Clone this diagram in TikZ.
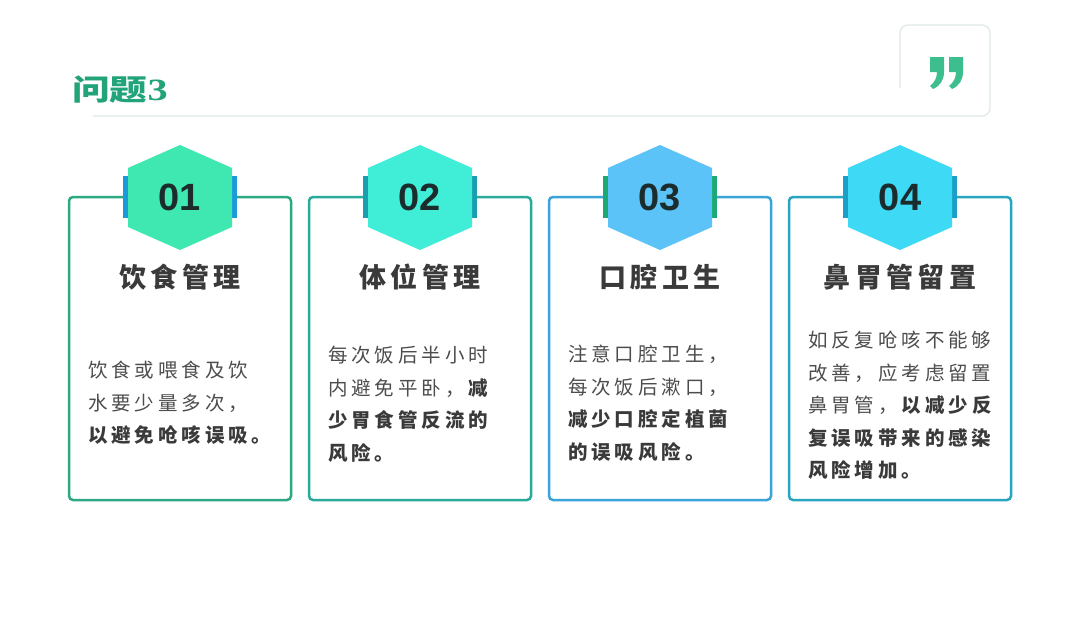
\documentclass[tikz,border=0pt]{standalone}
\usepackage{fontspec}
\usepackage{graphicx}
\usepackage{tikz}
\usetikzlibrary{positioning}
\newfontfamily\cjkbody[LetterSpace=20]{Noto Sans CJK SC}
\newfontfamily\cjkhead[LetterSpace=16]{Noto Sans CJK SC}
\newfontfamily\cjktitle{Noto Sans CJK SC}
\newfontfamily\numfont{Liberation Sans}
\newfontfamily\serifnum{Liberation Serif}
\definecolor{titlegreen}{HTML}{22A37A}
\definecolor{quotegreen}{HTML}{3DBE8E}
\definecolor{framegrey}{HTML}{E0E8E5}
\definecolor{bordA}{HTML}{2CA883}
\definecolor{bordB}{HTML}{2AAA9A}
\definecolor{bordC}{HTML}{3AA3D8}
\definecolor{bordD}{HTML}{2AA5BF}
\definecolor{hexA}{HTML}{3EE8B0}
\definecolor{hexB}{HTML}{40EED8}
\definecolor{hexC}{HTML}{5BC3F7}
\definecolor{hexD}{HTML}{3ED9F5}
\definecolor{tabA}{HTML}{1A9AD8}
\definecolor{tabB}{HTML}{1A9FB0}
\definecolor{tabC}{HTML}{1BA873}
\definecolor{tabD}{HTML}{1AA0C8}
\definecolor{numdark}{HTML}{1C2B2B}
\definecolor{headgrey}{HTML}{3A3A3A}
\definecolor{bodygrey}{HTML}{4D4D4D}
\tikzset{
    card/.style={draw=#1,line width=2.5pt,rounded corners=4pt,fill=white,
        minimum width=222pt,minimum height=303pt,outer sep=0pt},
    tab/.style={fill=#1,minimum width=114pt,minimum height=42pt,inner sep=0pt},
    num/.style={font=\numfont\bfseries\fontsize{38}{40}\selectfont,text=numdark},
    head/.style={font=\cjkhead\bfseries\fontsize{27}{30}\selectfont,text=headgrey},
    body/.style={font=\cjkbody\fontsize{19.5}{32.5}\selectfont,text=bodygrey,
        align=left,anchor=north west,inner sep=0pt},
}
\newcommand{\hexbadge}[2]{%
    \fill[#2] (#1) ++(0,-52) -- ++(52,23) -- ++(0,59) -- ++(-52,23)
        -- ++(-52,-23) -- ++(0,-59) -- cycle;}

\begin{document}
\begin{tikzpicture}[x=1pt,y=-1pt]
    \useasboundingbox[fill=white] (0,0) rectangle (1080,619);

    % heading and quote frame
    \node[anchor=west,inner sep=0pt,text=titlegreen] (title) at (72,90)
        {\scalebox{1.3}[1]{\cjktitle\bfseries\fontsize{29}{30}\selectfont 问题{\serifnum\fontsize{31}{30}\selectfont 3}}};
    \draw[framegrey,line width=1.3pt,rounded corners=8pt]
        (900,88) -- (900,25) -- (990,25) -- (990,116) -- (93,116);
    \foreach \dx in {0,19}{
        \fill[quotegreen,xshift=\dx pt] (930,57) -- (944,57) -- (944,72)
            .. controls (944,80) and (940,86) .. (933,89) -- (930,86)
            .. controls (935,82) and (937,77) .. (937,72) -- (930,72) -- cycle;
    }

    % cards
    \node[card=bordA] (card1) at (180,348.5) {};
    \node[card=bordB] (card2) at (420,348.5) {};
    \node[card=bordC] (card3) at (660,348.5) {};
    \node[card=bordD] (card4) at (900,348.5) {};

    \node[tab=tabA] (tab1) at (card1.north) {};
    \node[tab=tabB] (tab2) at (card2.north) {};
    \node[tab=tabC] (tab3) at (card3.north) {};
    \node[tab=tabD] (tab4) at (card4.north) {};

    \hexbadge{card1.north}{hexA}
    \hexbadge{card2.north}{hexB}
    \hexbadge{card3.north}{hexC}
    \hexbadge{card4.north}{hexD}

    \node[num] (num1) at (card1.north) {01};
    \node[num] (num2) at (card2.north) {02};
    \node[num] (num3) at (card3.north) {03};
    \node[num] (num4) at (card4.north) {04};

    \node[head] (head1) at ([yshift=-80pt]card1.north) {饮食管理};
    \node[head] (head2) at ([yshift=-80pt]card2.north) {体位管理};
    \node[head] (head3) at ([yshift=-80pt]card3.north) {口腔卫生};
    \node[head] (head4) at ([yshift=-80pt]card4.north) {鼻胃管留置};

    \node[body] (text1) at (88,361) {饮食或喂食及饮\\水要少量多次，\\
        \textbf{\color{headgrey}以避免呛咳误吸。}};
    \node[body] (text2) at (328,346) {每次饭后半小时\\内避免平卧，\textbf{\color{headgrey}减}\\
        \textbf{\color{headgrey}少胃食管反流的}\\\textbf{\color{headgrey}风险。}};
    \node[body] (text3) at (568,345) {注意口腔卫生，\\每次饭后漱口，\\
        \textbf{\color{headgrey}减少口腔定植菌}\\\textbf{\color{headgrey}的误吸风险。}};
    \node[body] (text4) at (808,331) {如反复呛咳不能够\\改善，应考虑留置\\
        鼻胃管，\textbf{\color{headgrey}以减少反}\\\textbf{\color{headgrey}复误吸带来的感染}\\
        \textbf{\color{headgrey}风险增加。}};
\end{tikzpicture}
\end{document}
